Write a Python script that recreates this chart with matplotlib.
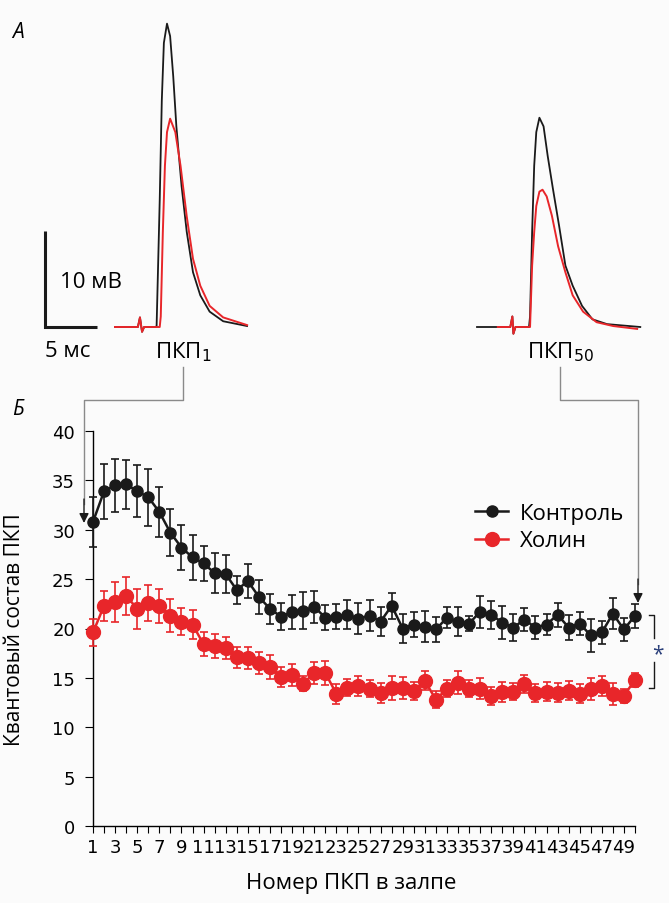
import matplotlib
matplotlib.use("Agg")
import matplotlib.pyplot as plt
import numpy as np

# quantal content per EPP number in the train (mean +/- SEM)
epp_num = np.arange(1, 51)
control = [30.8, 33.9, 34.5, 34.6, 33.9, 33.3, 31.8, 29.7, 28.2, 27.2,
           26.6, 25.6, 25.5, 23.9, 24.8, 23.2, 22.0, 21.2, 21.7, 21.8,
           22.2, 21.1, 21.2, 21.4, 21.0, 21.3, 20.7, 22.3, 20.0, 20.4,
           20.2, 19.9, 21.1, 20.7, 20.5, 21.7, 21.4, 20.6, 20.1, 20.9,
           20.1, 20.4, 21.4, 20.1, 20.5, 19.3, 19.6, 21.5, 19.9, 21.3]
control_err = [2.5, 2.8, 2.7, 2.5, 2.65, 2.9, 2.5, 2.4, 2.3, 2.3,
               1.8, 2.0, 1.9, 1.4, 1.7, 1.7, 1.5, 1.35, 1.7, 1.85,
               1.6, 1.3, 1.25, 1.45, 1.6, 1.55, 1.45, 1.3, 1.5, 1.25,
               1.55, 1.25, 1.05, 1.45, 0.8, 1.6, 1.4, 1.7, 1.4, 1.15,
               1.15, 1.1, 1.2, 1.25, 1.2, 1.65, 1.2, 1.6, 1.15, 1.2]
choline = [19.6, 22.3, 22.7, 23.3, 22.0, 22.6, 22.3, 21.3, 20.7, 20.4,
           18.4, 18.2, 18.0, 17.1, 17.0, 16.5, 16.1, 15.1, 15.3, 14.4,
           15.5, 15.5, 13.4, 14.0, 14.2, 13.9, 13.5, 14.0, 14.0, 13.7,
           14.7, 12.8, 13.9, 14.5, 13.9, 13.9, 13.2, 13.6, 13.6, 14.4,
           13.5, 13.6, 13.5, 13.7, 13.4, 13.9, 14.2, 13.4, 13.2, 14.8]
choline_err = [1.35, 1.5, 2.0, 1.9, 2.0, 1.85, 1.7, 1.7, 1.35, 1.45,
               1.2, 1.2, 1.1, 1.05, 1.1, 1.1, 1.2, 1.05, 1.1, 0.75,
               1.1, 1.25, 1.0, 0.85, 1.0, 0.85, 1.0, 1.2, 1.1, 0.9,
               0.95, 0.9, 0.85, 1.15, 0.85, 1.05, 0.9, 1.0, 0.85, 0.9,
               0.9, 0.95, 0.95, 0.95, 0.95, 1.1, 1.0, 1.1, 0.7, 0.7]
series_labels = ["Контроль", "Холин"]
y_ticks = [0, 5, 10, 15, 20, 25, 30, 35, 40]

# example EPP traces (time ms from trace start, voltage mV)
epp1_ctrl_t = [0, 2.2, 2.4, 2.6, 2.8, 3.9, 4.0, 4.3, 4.5, 4.7, 5.0, 5.3, 5.6,
               5.9, 6.4, 6.9, 7.5, 8.2, 9.1, 10.4, 12.7]
epp1_ctrl_v = [0, 0, 1.0, -0.5, 0, 0, 0.1, 13.2, 23.6, 29.6, 31.6, 30.3, 26.1,
               20.9, 14.7, 9.9, 5.7, 3.3, 1.6, 0.6, 0.1]
epp1_chol_t = [0, 2.2, 2.4, 2.6, 2.8, 4.3, 4.4, 4.6, 4.8, 5.0, 5.3, 5.8, 6.3,
               6.9, 7.5, 8.2, 9.1, 10.4, 12.7]
epp1_chol_v = [0, 0, 1.0, -0.5, 0, 0, 1.1, 9.9, 16.8, 20.3, 21.7, 20.3, 16.8,
               11.5, 7.1, 4.3, 2.2, 1.0, 0.2]
epp50_ctrl_t = [0, 3.2, 3.4, 3.5, 3.7, 5.0, 5.1, 5.3, 5.5, 5.7, 6.0, 6.4, 6.8,
                7.3, 7.9, 8.5, 9.2, 10.1, 11.1, 12.5, 15.7]
epp50_ctrl_v = [0, 0, 1.1, -0.7, 0, 0, 1.1, 9.9, 16.8, 20.3, 21.8, 20.9, 17.8,
                14.4, 10.5, 6.4, 4.3, 2.2, 0.8, 0.3, 0]
epp50_chol_t = [2.0, 3.2, 3.4, 3.5, 3.7, 5.1, 5.3, 5.5, 5.7, 6.0, 6.3, 6.7, 7.2,
                7.8, 8.5, 9.2, 10.2, 11.5, 13.1, 15.4]
epp50_chol_v = [0, 0, 1.1, -0.7, 0, 0, 6.4, 9.9, 12.6, 14.1, 14.3, 13.6, 11.6,
                8.4, 5.7, 3.3, 1.6, 0.5, 0.1, -0.2]

BLACK = "#1a1a1a"
RED = "#e8262a"
GREY = "#8a8a8a"
TXT = ["Open Sans", "DejaVu Sans"]
TICK = ["Liberation Sans Narrow", "DejaVu Sans"]

W, H = 669, 904
fig = plt.figure(figsize=(W / 100, H / 100), dpi=100)
fig.patch.set_facecolor("#fbfbfb")

# ---- panel A: traces (10.4 px per ms, 9.6 px per mV)
tr = fig.add_axes([0, 1 - 360 / H, 1, 360 / H])
tr.set_xlim(0, W / 10.4)
tr.set_ylim((328 - 360) / 9.6, 328 / 9.6)
tr.axis("off")
t0_left, t0_right = 115 / 10.4, 477 / 10.4
tr.plot(np.array(epp1_ctrl_t) + t0_left, epp1_ctrl_v, color=BLACK, lw=1.3)
tr.plot(np.array(epp1_chol_t) + t0_left, epp1_chol_v, color=RED, lw=1.4)
tr.plot(np.array(epp50_ctrl_t) + t0_right, epp50_ctrl_v, color=BLACK, lw=1.3)
tr.plot(np.array(epp50_chol_t) + t0_right, epp50_chol_v, color=RED, lw=1.4)
sb_x = 45 / 10.4
tr.plot([sb_x, sb_x, sb_x + 5], [10, 0, 0], color=BLACK, lw=2.2,
        solid_joinstyle="miter", solid_capstyle="butt")

# ---- panel Б: quantal content
ax = fig.add_axes([93 / W, 77 / H, 542 / W, 395 / H])
ax.patch.set_alpha(0)
ctl = ax.errorbar(epp_num, control, yerr=control_err, fmt="-o", color=BLACK,
                  ms=8, lw=1.8, elinewidth=1.2, capsize=3, capthick=1.2,
                  clip_on=False, zorder=3)
chl = ax.errorbar(epp_num, choline, yerr=choline_err, fmt="-o", color=RED,
                  ms=10, lw=1.8, elinewidth=1.2, capsize=3, capthick=1.2,
                  clip_on=False, zorder=3)
ax.set_xlim(1, 50)
ax.set_ylim(0, 40)
for s in ["top", "right"]:
    ax.spines[s].set_visible(False)
for s in ["left", "bottom"]:
    ax.spines[s].set_linewidth(1.0)
ax.set_xticks(epp_num)
ax.set_xticklabels([str(i) if i % 2 else "" for i in epp_num],
                   family=TICK, fontsize=13)
ax.set_yticks(y_ticks)
ax.set_yticklabels([str(v) for v in y_ticks], family=TICK, fontsize=13)
ax.tick_params(axis="y", length=6, pad=7)
ax.tick_params(axis="x", length=5, pad=4)
ax.set_ylabel("Квантовый состав ПКП", family=TXT, fontsize=15)
ax.yaxis.set_label_coords((25 - 93) / 542, 0.5)
ax.set_xlabel("Номер ПКП в залпе", family=TXT, fontsize=16)
ax.xaxis.set_label_coords((351 - 93) / 542, -(873 - 827) / 395)

leg = ax.legend([ctl.lines[0], chl.lines[0]], series_labels,
                loc="center left", bbox_to_anchor=(464 / W, 1 - 528 / H),
                bbox_transform=fig.transFigure, frameon=False,
                prop={"family": TXT, "size": 16}, handlelength=1.5,
                handletextpad=0.5, labelspacing=0.3, borderpad=0)

# significance bracket
bx = 51.7
ax.plot([bx - 0.45, bx, bx], [21.4, 21.4, 19.0], color=BLACK, lw=1.0,
        clip_on=False)
ax.plot([bx, bx, bx - 0.45], [16.6, 14.0, 14.0], color=BLACK, lw=1.0,
        clip_on=False)
ax.text(bx + 0.35, 17.4, "*", ha="center", va="center", fontsize=15,
        color="#2a3f7a", family=TXT)

# ---- overlay in pixel coordinates: labels and connectors
ov = fig.add_axes([0, 0, 1, 1])
ov.set_xlim(0, W)
ov.set_ylim(H, 0)
ov.axis("off")
ov.patch.set_alpha(0)
ov.text(12, 32, "А", fontsize=15, style="italic", family=TXT, va="center")
ov.text(12, 410, "Б", fontsize=15, style="italic", family=TXT, va="center")
ov.text(60, 283, "10 мВ", fontsize=16, family=TXT, va="center")
ov.text(45, 352, "5 мс", fontsize=16, family=TXT, va="center")
ov.text(183, 352, "ПКП$_1$", fontsize=16, family=TXT, va="center", ha="center")
ov.text(560, 352, "ПКП$_{50}$", fontsize=16, family=TXT, va="center",
        ha="center")

ov.plot([183, 183, 84, 84], [368, 401, 401, 505], color=GREY, lw=1.0)
ov.annotate("", xy=(84, 524), xytext=(84, 500),
            arrowprops=dict(arrowstyle="-|>", color=BLACK, lw=1.0,
                            mutation_scale=14, shrinkA=0, shrinkB=0))
ov.plot([560, 560, 638, 638], [368, 401, 401, 585], color=GREY, lw=1.0)
ov.annotate("", xy=(638, 604), xytext=(638, 580),
            arrowprops=dict(arrowstyle="-|>", color=BLACK, lw=1.0,
                            mutation_scale=14, shrinkA=0, shrinkB=0))

fig.savefig("out.png", dpi=100, facecolor=fig.get_facecolor())
